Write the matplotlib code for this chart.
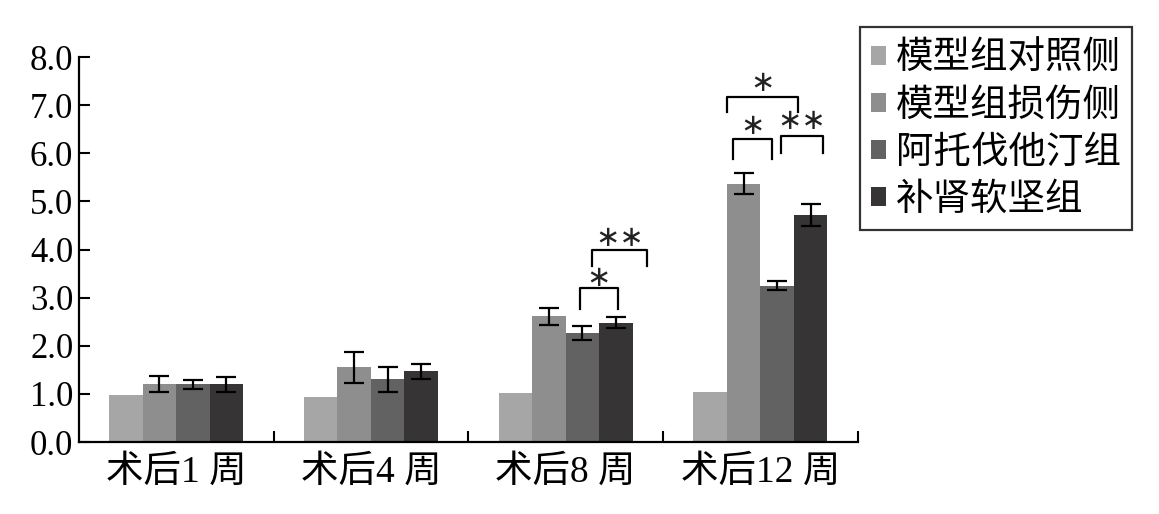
import numpy as np
import matplotlib.pyplot as plt

plt.rcParams['font.family'] = ['Liberation Serif', 'Noto Sans CJK SC']

# 数据
categories = ["术后1 周", "术后4 周", "术后8 周", "术后12 周"]
series = ["模型组对照侧", "模型组损伤侧", "阿托伐他汀组", "补肾软坚组"]
colors = ["#a6a6a6", "#8e8e8e", "#626262", "#373435"]

control = [0.97, 0.93, 1.02, 1.03]
injured = [1.20, 1.55, 2.61, 5.37]
atorva = [1.20, 1.30, 2.27, 3.25]
bushen = [1.20, 1.47, 2.48, 4.72]

injured_err = [0.17, 0.32, 0.17, 0.22]
atorva_err = [0.09, 0.25, 0.15, 0.10]
bushen_err = [0.16, 0.15, 0.12, 0.23]

values = [control, injured, atorva, bushen]
errors = [None, injured_err, atorva_err, bushen_err]

# 显著性标注: (x1, x2, 横线高度, 竖线底部, 星号高度, 星号)
brackets = [
    (2.072, 2.27, 3.20, 2.77, 3.40, "∗"),
    (2.138, 2.419, 4.00, 3.66, 4.25, "∗∗"),
    (2.829, 3.196, 7.16, 6.85, 7.47, "∗"),
    (2.858, 3.062, 6.29, 5.89, 6.57, "∗"),
    (3.108, 3.322, 6.36, 6.00, 6.67, "∗∗"),
]

fig = plt.figure(figsize=(11.59, 5.14), dpi=100)
ax = fig.add_axes([0.068, 0.14, 0.672, 0.749])

x = np.arange(len(categories))
w = 0.172
for i in range(4):
    pos = x + (i - 1.5) * w
    ax.bar(pos, values[i], width=w, color=colors[i], label=series[i])
    if errors[i] is not None:
        ax.errorbar(pos, values[i], yerr=errors[i], fmt="none", ecolor="black",
                    elinewidth=1.6, capsize=7, capthick=1.6)

for x1, x2, top, bot, sy, star in brackets:
    ax.plot([x1, x1, x2, x2], [bot, top, top, bot], color="black", lw=1.6)
    ax.text((x1 + x2) / 2, sy, star, ha="center", va="center",
            fontsize=21, family=["DejaVu Sans"], color="#222222")

ax.set_xlim(-0.5, 3.5)
ax.set_ylim(0, 8)
ax.set_yticks(np.arange(0, 8.1, 1))
ax.set_yticklabels([f"{v:.1f}" for v in np.arange(0, 8.1, 1)], fontsize=25)
ax.set_xticks(x)
ax.set_xticklabels(categories, fontsize=27)
ax.tick_params(axis="x", length=0, pad=9)
ax.tick_params(axis="y", direction="in", length=8, width=1.5, pad=4)
ax.set_xticks([0.5, 1.5, 2.5, 3.5], minor=True)
ax.tick_params(axis="x", which="minor", direction="in", length=8, width=1.5)

for s in ["top", "right"]:
    ax.spines[s].set_visible(False)
for s in ["left", "bottom"]:
    ax.spines[s].set_linewidth(1.6)

leg = ax.legend(loc="upper left", bbox_to_anchor=(0.742, 0.947), bbox_transform=fig.transFigure,
                prop={"family": ["Noto Sans CJK SC"], "size": 27}, frameon=True, fancybox=False,
                handlelength=0.4, handleheight=0.4, handletextpad=0.25, labelspacing=0.22,
                borderpad=0.3, borderaxespad=0)
leg.get_frame().set_edgecolor("black")
leg.get_frame().set_linewidth(1.6)

fig.savefig("out.png", dpi=100)
